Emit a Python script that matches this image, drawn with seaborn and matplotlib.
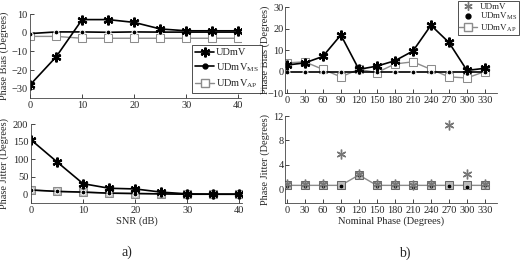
import matplotlib
matplotlib.use("Agg")
import matplotlib.pyplot as plt
import seaborn as sns
import numpy as np
from matplotlib.lines import Line2D

# ---- data ----
snr = [0, 5, 10, 15, 20, 25, 30, 35, 40]
bias_udmv = [-28, -13, 7, 7, 5.5, 2, 1, 1, 1]
bias_ms = [-0.5, 0.4, 0.4, 0.2, 0.4, 0.3, 0.3, 0.3, 0.3]
bias_ap = [-2, -2, -3, -3, -3, -3, -3, -3, -3]
jit_udmv = [155, 92, 30, 17, 15, 6, 1, 0, 0]
jit_ms = [12, 8, 6, 3, 2, 1, 0, 0, 0]
jit_ap = [12, 8, 6, 3, 2, 1, 0, 0, 0]

phase = [0, 30, 60, 90, 120, 150, 180, 210, 240, 270, 300, 330]
pb_udmv = [3, 4, 7, 17, 1, 2.5, 5, 9.5, 21.5, 13.5, 0.5, 1.5]
pb_ms = [0, 0, 0, 0, 0, 0, 0, 0, 0, 0, 0, 0]
pb_ap = [4, 4.5, 1, -2.5, 1, -0.5, 3.5, 4.5, 1, -2.5, -3, 0]
pj_udmv = [0.8, 0.8, 0.8, 5.7, 2.4, 0.8, 0.8, 0.6, 0.8, 10.6, 2.5, 0.9]
pj_ms = [0.5, 0.5, 0.5, 0.5, 2.3, 0.5, 0.5, 0.4, 0.5, 0.5, 0.4, 0.6]
pj_ap = [0.6, 0.6, 0.6, 0.6, 2.3, 0.6, 0.6, 0.6, 0.6, 0.6, 0.6, 0.6]

labels = ["UDmV", r"UDmV$_{\mathrm{MS}}$", r"UDmV$_{\mathrm{AP}}$"]

sns.set_style("ticks")
plt.rcParams["font.family"] = ["Liberation Serif", "DejaVu Serif"]
plt.rcParams["mathtext.fontset"] = "custom"
plt.rcParams["mathtext.rm"] = "Liberation Serif"
plt.rcParams["font.size"] = 7.5

fig = plt.figure(figsize=(5.3, 2.6), dpi=100)
H = 260.0
W = 530.0
def pos(l, t, r, b):
    return [l / W, 1 - b / H, (r - l) / W, (b - t) / H]

ax1 = fig.add_axes(pos(30, 14, 241, 98))
ax2 = fig.add_axes(pos(31, 124, 242, 203))
ax3 = fig.add_axes(pos(285, 7, 497, 93))
ax4 = fig.add_axes(pos(285, 116, 497, 203))

AST = (6, 2, 0)
GRAY = "#8c8c8c"

def style(ax):
    sns.despine(ax=ax)
    ax.tick_params(direction="in", length=3, width=0.6, labelsize=7.5, pad=2)
    for s in ["left", "bottom"]:
        ax.spines[s].set_linewidth(0.6)
        ax.spines[s].set_color("#444444")

# panel a top
sns.lineplot(x=snr, y=bias_ap, ax=ax1, color=GRAY, marker="s", markersize=6,
             markerfacecolor="white", markeredgecolor=GRAY, lw=1.0)
sns.lineplot(x=snr, y=bias_ms, ax=ax1, color="black", marker="o", markersize=3.5, lw=1.2)
sns.lineplot(x=snr, y=bias_udmv, ax=ax1, color="black", marker=AST, markersize=7,
             markeredgewidth=1.6, markeredgecolor="black", lw=1.2)
ax1.set_xlim(0, 40.5)
ax1.set_ylim(-35, 10)
ax1.set_yticks([-30, -20, -10, 0, 10])
ax1.set_xticks([0, 10, 20, 30, 40])
ax1.set_ylabel("Phase Bias (Degrees)")
ax1.yaxis.set_label_coords(-0.098, 0.5)
style(ax1)

# panel a bottom
sns.lineplot(x=snr, y=jit_ap, ax=ax2, color=GRAY, marker="s", markersize=6,
             markerfacecolor="#bbbbbb", markeredgecolor=GRAY, lw=1.0)
sns.lineplot(x=snr, y=jit_ms, ax=ax2, color="black", marker="o", markersize=3.5, lw=1.2)
sns.lineplot(x=snr, y=jit_udmv, ax=ax2, color="black", marker=AST, markersize=7,
             markeredgewidth=1.6, markeredgecolor="black", lw=1.2)
ax2.set_xlim(0, 40.5)
ax2.set_ylim(-25, 200)
ax2.set_yticks([0, 50, 100, 150, 200])
ax2.set_xticks([0, 10, 20, 30, 40])
ax2.set_ylabel("Phase Jitter (Degrees)")
ax2.yaxis.set_label_coords(-0.102, 0.5)
ax2.set_xlabel("SNR (dB)", labelpad=1)
style(ax2)

# panel b top
sns.lineplot(x=phase, y=pb_ap, ax=ax3, color=GRAY, marker="s", markersize=6,
             markerfacecolor="white", markeredgecolor=GRAY, lw=1.0)
sns.lineplot(x=phase, y=pb_ms, ax=ax3, color="black", marker="o", markersize=3.5, lw=1.2)
sns.lineplot(x=phase, y=pb_udmv, ax=ax3, color="black", marker=AST, markersize=7,
             markeredgewidth=1.6, markeredgecolor="black", lw=1.2)
ax3.set_xlim(-3, 350)
ax3.set_ylim(-10, 30)
ax3.set_yticks([-10, 0, 10, 20, 30])
ax3.set_xticks(phase)
ax3.set_ylabel("Phase Bias (Degrees)")
ax3.yaxis.set_label_coords(-0.072, 0.5)
style(ax3)
ax3.tick_params(axis="y", pad=1)

# panel b bottom
sns.lineplot(x=phase, y=pj_ap, ax=ax4, color=GRAY, marker="s", markersize=6,
             markerfacecolor="#bbbbbb", markeredgecolor="#666666", lw=1.0)
sns.scatterplot(x=phase, y=pj_ms, ax=ax4, color="black", marker="o", s=10, zorder=4)
ax4.plot(phase, pj_udmv, linestyle="none", marker=AST, markersize=7,
         markeredgewidth=1.0, markeredgecolor="#777777", zorder=5)
ax4.set_xlim(-3, 350)
ax4.set_ylim(-2.3, 12)
ax4.set_yticks([0, 4, 8, 12])
ax4.set_xticks(phase)
ax4.set_ylabel("Phase Jitter (Degrees)")
ax4.yaxis.set_label_coords(-0.072, 0.5)
ax4.set_xlabel("Nominal Phase (Degrees)", labelpad=1)
style(ax4)
ax4.tick_params(axis="y", pad=1)

# legends
h_a = [
    Line2D([], [], color="black", marker=AST, markersize=7, markeredgewidth=1.6, lw=1.2),
    Line2D([], [], color="black", marker="o", markersize=3.5, lw=1.2),
    Line2D([], [], color=GRAY, marker="s", markersize=6, markerfacecolor="white", lw=1.0),
]
fig.legend(h_a, labels, loc="upper right", bbox_to_anchor=(262 / W, 1 - 45 / H),
           frameon=True, fancybox=False, edgecolor="black", fontsize=7.5,
           handlelength=1.8, handletextpad=0.2, borderpad=0.3, labelspacing=0.35,
           borderaxespad=0).get_frame().set_linewidth(0.6)

h_b = [
    Line2D([], [], color="#777777", marker=AST, markersize=6, markeredgewidth=1.0, lw=0),
    Line2D([], [], color="black", marker="o", markersize=3.5, lw=0),
    Line2D([], [], color=GRAY, marker="s", markersize=6, markerfacecolor="white", lw=1.0),
]
fig.legend(h_b, labels, loc="upper left", bbox_to_anchor=(458 / W, 1 - 1 / H),
           frameon=True, fancybox=False, edgecolor="black", fontsize=6.5,
           handlelength=2.0, handletextpad=0.3, borderpad=0.15, labelspacing=0.0,
           borderaxespad=0).get_frame().set_linewidth(0.6)

fig.text(127 / W, 1 - 252 / H, "a)", ha="center", va="center", fontsize=10)
fig.text(405 / W, 1 - 253 / H, "b)", ha="center", va="center", fontsize=10)

fig.savefig("out.png", dpi=100)
